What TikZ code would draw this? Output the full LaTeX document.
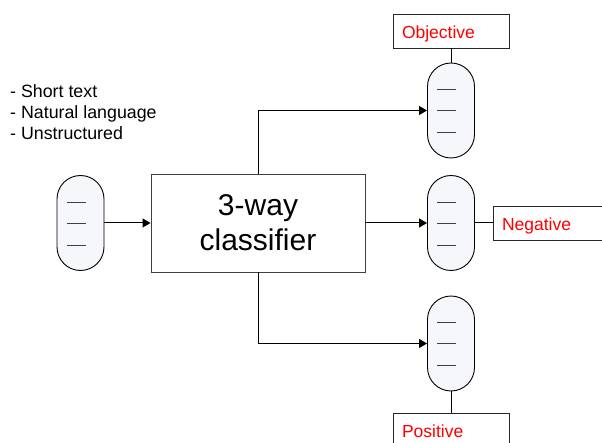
\documentclass[tikz,border=0pt]{standalone}
\usepackage{fontspec}
\setmainfont{Liberation Sans}
\usetikzlibrary{arrows.meta}
\definecolor{capfill}{rgb}{0.96,0.968,0.985}
\definecolor{boxline}{gray}{0.25}
\tikzset{
  capsule/.style={draw=black, line width=0.9pt, fill=capfill, rectangle, rounded corners=23.5pt,
    minimum width=47pt, minimum height=95pt, inner sep=0pt},
  capline/.style={draw=black!75, line width=0.8pt},
  mainbox/.style={draw=boxline, line width=0.9pt, rectangle, minimum width=214pt, minimum height=98pt,
    align=center, font=\fontsize{30}{35}\selectfont, inner sep=0pt},
  outbox/.style={draw=black!85, line width=0.9pt, rectangle, fill=white, minimum width=116pt, minimum height=34pt,
    text width=98pt, text height=15pt, text depth=0pt, inner xsep=9pt, inner ysep=0pt, align=left, text=red,
    font=\fontsize{17.5}{21}\selectfont},
  note/.style={anchor=base west, inner sep=0pt, font=\fontsize{17.8}{21}\selectfont},
  conn/.style={draw=black, line width=1pt},
  arr/.style={conn, -{Triangle[length=8pt, width=9pt]}},
}
\newcommand\caplines[1]{\foreach \dy in {-21,0,22} {\draw[capline] ([shift={(-14,\dy)}]#1.center) -- ++(19,0);}}
\begin{document}
\begin{tikzpicture}[x=1pt,y=-1pt]
\useasboundingbox (0,0) rectangle (602,443);
\clip (0,0) rectangle (602,443);
\node[note] (t1) at (10,98) {- Short text};
\node[note] (t2) at (10,119) {- Natural language};
\node[note] (t3) at (10,140) {- Unstructured};
\node[capsule] (in) at (80.5,223) {};
\caplines{in}
\node[mainbox] (clf) at (258,223) {3-way\\classifier};
\node[capsule] (c1) at (451,110.5) {};
\caplines{c1}
\node[capsule] (c2) at (451,223) {};
\caplines{c2}
\node[capsule] (c3) at (451,343.5) {};
\caplines{c3}
\node[outbox] (obj) at (451,31) {Objective};
\node[outbox] (neg) at (551,223) {Negative};
\node[outbox] (pos) at (451,430) {Positive};
\draw[arr] (in.east) -- (clf.west);
\draw[arr] (clf.north) |- (c1.west);
\draw[arr] (clf.east) -- (c2.west);
\draw[arr] (clf.south) |- (c3.west);
\draw[conn] (obj.south) -- (c1.north);
\draw[conn] (c2.east) -- (neg.west);
\draw[conn] (c3.south) -- (pos.north);
\end{tikzpicture}
\end{document}
